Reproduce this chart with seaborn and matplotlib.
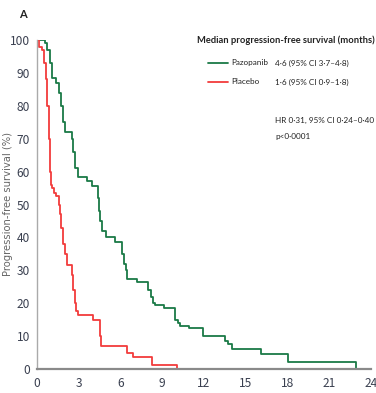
import numpy as np
import pandas as pd
import seaborn as sns
import matplotlib
matplotlib.use("Agg")
import matplotlib.pyplot as plt
from matplotlib.lines import Line2D

# Kaplan-Meier progression-free survival, step values (months, % event-free)
paz_months = [0, 0.55, 0.75, 0.95, 1.05, 1.4, 1.6, 1.75, 1.85, 2.0, 2.5, 2.6, 2.73,
              2.95, 3.6, 3.95, 4.35, 4.45, 4.55, 4.65, 4.95, 5.6, 6.1, 6.25, 6.4,
              6.45, 7.2, 8.0, 8.2, 8.35, 8.5, 9.1, 9.9, 10.1, 10.3, 10.9, 11.9,
              13.5, 13.7, 14.0, 16.1, 18.0, 22.9]
paz_pct = [100, 99, 97, 93, 88.5, 87, 84, 80, 75, 72, 70, 66, 61,
           58.5, 57, 55.5, 52, 48, 45, 42, 40, 38.5, 35, 32, 30,
           27.5, 26.5, 24, 22, 20, 19.5, 18.5, 15, 14, 13, 12.5, 10,
           8.5, 7.5, 6, 4.5, 2.2, 0]

plc_months = [0, 0.15, 0.35, 0.5, 0.65, 0.75, 0.85, 0.92, 1.0, 1.07, 1.2, 1.4,
              1.55, 1.65, 1.75, 1.9, 2.0, 2.15, 2.5, 2.62, 2.7, 2.8, 2.95, 4.0,
              4.5, 4.6, 6.45, 6.9, 8.25, 10.05]
plc_pct = [100, 98, 97, 93, 88, 80, 70, 60, 56, 55, 53.5, 52.5,
           50, 47, 43, 38, 35, 31.5, 28.5, 24, 20, 17.5, 16.5, 15,
           10, 7, 5, 3.5, 1.2, 0]

arms = ["Pazopanib", "Placebo"]
medians = ["4·6 (95% CI 3·7–4·8)", "1·6 (95% CI 0·9–1·8)"]
x_ticks = [0, 3, 6, 9, 12, 15, 18, 21, 24]
y_ticks = [0, 10, 20, 30, 40, 50, 60, 70, 80, 90, 100]

GREEN = "#1a7a46"
RED = "#f23c3c"
INK = "#222222"
LEGEND_FONT = ["Lato", "DejaVu Sans"]

sns.set_style("white")
plt.rcParams["font.family"] = ["Noto Sans CJK JP", "DejaVu Sans"]

df = pd.concat([
    pd.DataFrame({"month": paz_months, "pct": paz_pct, "arm": arms[0]}),
    pd.DataFrame({"month": plc_months, "pct": plc_pct, "arm": arms[1]}),
], ignore_index=True)

W, H = 376, 393
fig = plt.figure(figsize=(W / 100, H / 100), dpi=100)
ax = fig.add_axes([37 / W, (H - 369) / H, 334 / W, 329 / H])

sns.lineplot(data=df, x="month", y="pct", hue="arm", palette=[GREEN, RED],
             estimator=None, sort=False, drawstyle="steps-post", lw=1.3,
             legend=False, ax=ax)

ax.set_xlim(0, 24)
ax.set_ylim(0, 100)
ax.set_xticks(x_ticks)
ax.set_yticks(y_ticks)
ax.set_xlabel("")
ax.set_ylabel("Progression-free survival (%)", fontsize=7.2, color="#666666",
              family=["DejaVu Sans"])
ax.yaxis.set_label_coords(-0.072, 0.5)
ax.tick_params(axis="both", direction="out", length=4, width=1,
               color="#888888", labelsize=8.6, labelcolor="#3a4050", pad=1)
ax.tick_params(axis="x", pad=2)
ax.spines["top"].set_visible(False)
ax.spines["right"].set_visible(False)
ax.spines["left"].set_color("#aaaaaa")
ax.spines["left"].set_linewidth(1.0)
ax.spines["bottom"].set_color("#8a8a8a")
ax.spines["bottom"].set_linewidth(1.6)


def fx(px):
    return px / W


def fy(py):
    return 1 - py / H


renderer = fig.canvas.get_renderer()


def fitted(px, py, text, width_px, size=8.0, **kw):
    """Place a text at (px, py) and scale its size to span width_px pixels."""
    t = fig.text(fx(px), fy(py), text, fontsize=size, va="center", color=INK,
                 family=LEGEND_FONT, **kw)
    w = t.get_window_extent(renderer).width
    t.set_fontsize(size * width_px / w)
    return t


fig.text(fx(23), fy(14), "A", fontsize=8, fontweight="bold", color=INK,
         ha="center", va="center", family=LEGEND_FONT)

fitted(375, 40, "Median progression-free survival (months)", 178,
       fontweight="bold", ha="right")
row_y = [63, 82]
for yy, col in zip(row_y, [GREEN, RED]):
    fig.add_artist(Line2D([fx(208), fx(228)], [fy(yy), fy(yy)], color=col, lw=1.3))

hr = fitted(275, 120, "HR 0·31, 95% CI 0·24–0·40", 99)
size = hr.get_fontsize()
for yy, arm, med in zip(row_y, arms, medians):
    fig.text(fx(231), fy(yy), arm, fontsize=size, color=INK, va="center",
             family=LEGEND_FONT)
    fig.text(fx(275), fy(yy), med, fontsize=size, color=INK, va="center",
             family=LEGEND_FONT)
fig.text(fx(275), fy(137), "p<0·0001", fontsize=size, color=INK, va="center",
         family=LEGEND_FONT)

fig.savefig("out.png", dpi=100)
